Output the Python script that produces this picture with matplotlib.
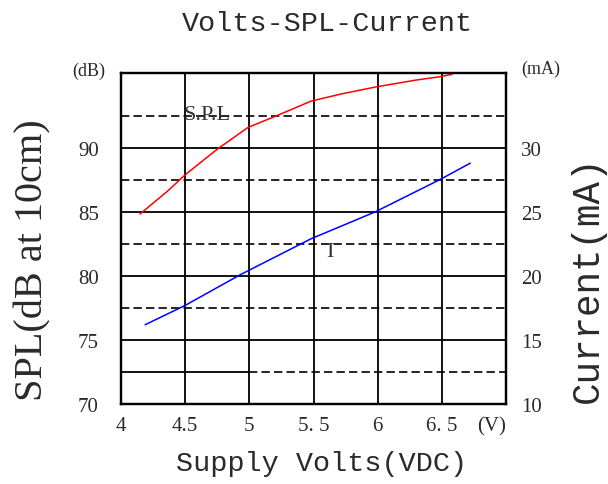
import matplotlib
matplotlib.use("Agg")
import matplotlib.pyplot as plt

# data
volts_spl = [4.15, 4.36, 4.5, 4.75, 4.99, 5.21, 5.48, 5.71, 5.98, 6.3, 6.48, 6.58]
spl = [84.85, 86.6, 87.9, 89.9, 91.6, 92.5, 93.65, 94.2, 94.75, 95.3, 95.55, 95.75]

volts_i = [4.19, 4.5, 4.93, 5.48, 5.98, 6.48, 6.72]
current = [16.2, 17.7, 20.1, 22.9, 25.0, 27.5, 28.8]

x_ticks = [4, 4.5, 5, 5.5, 6, 6.5]
x_labels = ["4", "4.5", "5", "5. 5", "6", "6. 5"]
spl_ticks = [70, 75, 80, 85, 90]
cur_ticks = [10, 15, 20, 25, 30]

serif = "Liberation Serif"
mono = "Liberation Mono"
txt = "#2a2a2a"

fig = plt.figure(figsize=(6.08, 4.85), dpi=100)
ax = fig.add_axes([121 / 608, 80 / 485, 385 / 608, 331 / 485])
ax.set_xlim(4, 7)
ax.set_ylim(70, 95.85)

# grid: solid majors, dashed halves
for x in x_ticks[1:]:
    ax.axvline(x, color="black", lw=1.3, zorder=1)
for y in spl_ticks[1:]:
    ax.axhline(y, color="black", lw=1.3, zorder=1)
for y in [77.5, 82.5, 87.5, 92.5]:
    ax.axhline(y, color="black", lw=1.2, ls=(0, (5, 2.5)), zorder=1)
ax.hlines(72.5, 4, 5, color="black", lw=1.3, zorder=1)
ax.hlines(72.5, 5, 7, color="black", lw=1.2, ls=(0, (5, 2.5)), zorder=1)

ax.plot(volts_spl, spl, color="#ff0000", lw=1.1, zorder=3)

ax.set_xticks(x_ticks)
ax.set_xticklabels(x_labels)
ax.set_yticks(spl_ticks)
ax.tick_params(axis="both", length=0, labelsize=15, labelcolor=txt)
ax.tick_params(axis="x", pad=9)
ax.tick_params(axis="y", pad=16)
for lab in ax.get_xticklabels() + ax.get_yticklabels():
    lab.set_fontfamily(serif)
for s in ax.spines.values():
    s.set_linewidth(1.6)

ax2 = ax.twinx()
ax2.set_ylim(10, 35.85)
ax2.plot(volts_i, current, color="#0000ff", lw=1.1, zorder=3)
ax2.set_yticks(cur_ticks)
ax2.tick_params(axis="y", length=0, labelsize=15, labelcolor=txt, pad=11)
for lab in ax2.get_yticklabels():
    lab.set_fontfamily(serif)
for s in ax2.spines.values():
    s.set_linewidth(1.6)

# unit markers
ax.annotate("(V)", xy=(6.89, 0), xycoords=("data", "axes fraction"),
            xytext=(0, -9), textcoords="offset points", ha="center", va="top",
            fontsize=15, family=serif, color=txt)
ax.annotate("(dB)", xy=(0, 1), xycoords="axes fraction", xytext=(-23, 2),
            textcoords="offset points", ha="center", va="center",
            fontsize=13, family=serif, color=txt)
ax.annotate("(mA)", xy=(1, 1), xycoords="axes fraction", xytext=(25, 3),
            textcoords="offset points", ha="center", va="center",
            fontsize=13, family=serif, color=txt)

# curve labels
ax.text(4.49, 92.6, "S.P.L", fontsize=16, family=serif, color="#333333",
        va="center", ha="left", zorder=2)
ax.text(5.63, 81.9, "I", fontsize=16, family=serif, color="#333333",
        va="center", ha="center")

fig.text(327 / 608, 1 - 24 / 485, "Volts-SPL-Current", fontsize=20.5,
         family=mono, color=txt, ha="center", va="center")
fig.text(322 / 608, 1 - 464 / 485, "Supply Volts(VDC)", fontsize=20.5,
         family=mono, color=txt, ha="center", va="center")
fig.text(33 / 608, 1 - 260 / 485, "SPL(dB at 10cm)", fontsize=29,
         family=serif, color=txt, rotation=90, ha="center", va="center")
fig.text(588 / 608, 1 - 279 / 485, "Current(mA)", fontsize=27,
         family=mono, color=txt, rotation=90, ha="center", va="center")

fig.savefig("out.png", dpi=100)
